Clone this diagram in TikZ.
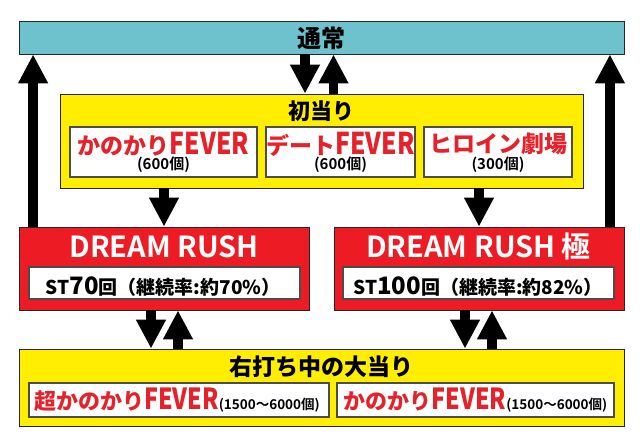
\documentclass[tikz,border=0pt]{standalone}
\usepackage{fontspec}
\usepackage{graphicx}
\setmainfont{Noto Sans CJK JP Bold}
\newfontfamily\heavyfont{Noto Sans CJK JP Black}
\usetikzlibrary{arrows.meta}

\definecolor{normalcyan}{RGB}{110,194,206}
\definecolor{hityellow}{RGB}{255,238,0}
\definecolor{rushred}{RGB}{237,28,36}
\definecolor{namered}{RGB}{230,33,41}

\newcommand{\narrow}[1]{\scalebox{0.82}[1]{#1}}
\newcommand{\namefont}{\heavyfont\fontsize{23}{23}\selectfont\color{namered}}
\newcommand{\smallname}{\heavyfont\fontsize{22}{22}\selectfont\color{namered}}
\newcommand{\countfont}{\fontsize{15}{15}\selectfont\color{black}}
\newcommand{\rangefont}{\fontsize{13.5}{13.5}\selectfont\color{black}}

\begin{document}
\begin{tikzpicture}[x=1pt,y=-1pt,
    panel/.style={draw=black!85, line width=0.8pt, inner sep=0pt},
    whitebox/.style={draw=black!70, line width=1.2pt, fill=white, inner sep=0pt},
    heading/.style={font=\heavyfont\fontsize{#1}{#1}\selectfont, inner sep=0pt},
    label/.style={inner sep=0pt},
    flow/.style={-{Triangle[width=28pt,length=29pt]}, line width=9.5pt}]
    \useasboundingbox (0,0) rectangle (640,446);

    % Normal state
    \node[panel, fill=normalcyan, minimum width=605pt, minimum height=33pt] (normal) at (321.5,37.5) {};
    \node[heading=24] (normaltxt) at (321.5,38) {通常};

    % First hit
    \node[panel, fill=hityellow, minimum width=523pt, minimum height=94pt] (first) at (321.5,141) {};
    \node[heading=22] (firsttxt) at (321.5,111) {初当り};
    \node[whitebox, minimum width=187pt, minimum height=50pt] (kano) at (163.5,152) {};
    \node[whitebox, minimum width=149pt, minimum height=50pt] (date) at (340.5,152) {};
    \node[whitebox, minimum width=148pt, minimum height=50pt] (heroine) at (498,152) {};
    \node[label, font=\namefont] (kanoname) at (163.5,144) {かのかり\narrow{\fontsize{30}{30}\selectfont FEVER}};
    \node[label, font=\namefont] (datename) at (340.5,144) {デート\narrow{\fontsize{30}{30}\selectfont FEVER}};
    \node[label, font=\namefont] (heroinename) at (498,144) {ヒロイン劇場};
    \node[label, font=\countfont] (kanocount) at (163.5,165) {(600個)};
    \node[label, font=\countfont] (datecount) at (340.5,165) {(600個)};
    \node[label, font=\countfont] (heroinecount) at (498,165) {(300個)};

    % DREAM RUSH
    \node[panel, fill=rushred, minimum width=290pt, minimum height=83pt] (rush) at (164,268.5) {};
    \node[panel, fill=rushred, minimum width=290pt, minimum height=83pt] (rushx) at (479,268.5) {};
    \node[label, anchor=base, text=white, font=\fontsize{29}{29}\selectfont] (rushtxt) at (164,258) {DREAM RUSH};
    \node[label, anchor=base, text=white, font=\fontsize{29}{29}\selectfont] (rushxtxt) at (478.5,258) {DREAM RUSH 極};
    \node[whitebox, minimum width=271pt, minimum height=32pt] (st70) at (164.5,283) {};
    \node[whitebox, minimum width=271pt, minimum height=32pt] (st100) at (478.5,283) {};
    \node[label, anchor=base, font=\heavyfont] (st70txt) at (163,295)
        {{\fontsize{19}{19}\selectfont ST}{\fontsize{24}{24}\selectfont 70}{\fontsize{19}{19}\selectfont 回（継続率:約70\%）}};
    \node[label, anchor=base, font=\heavyfont] (st100txt) at (478,295)
        {{\fontsize{19}{19}\selectfont ST}{\fontsize{24}{24}\selectfont 100}{\fontsize{19}{19}\selectfont 回（継続率:約82\%）}};

    % Right-side hit
    \node[panel, fill=hityellow, minimum width=605pt, minimum height=77pt] (right) at (321.5,387.5) {};
    \node[heading=23] (righttxt) at (321.5,366.5) {右打ち中の大当り};
    \node[whitebox, minimum width=300pt, minimum height=34pt] (superk) at (179,400) {};
    \node[whitebox, minimum width=277pt, minimum height=34pt] (kanoright) at (475.5,400) {};
    \node[label] (superktxt) at (177,400)
        {{\smallname 超かのかり\scalebox{0.8}[1]{\fontsize{29}{29}\selectfont FEVER}}{\rangefont(1500～6000個)}};
    \node[label] (kanorighttxt) at (475.5,400)
        {{\smallname かのかり\scalebox{0.8}[1]{\fontsize{29}{29}\selectfont FEVER}}{\rangefont(1500～6000個)}};

    % Arrows
    \draw[flow] ([xshift=14.5pt]rush.north west) -- ([xshift=14.5pt]normal.south west);
    \draw[flow] ([xshift=-14.5pt]rushx.north east) -- ([xshift=-14.5pt]normal.south east);
    \draw[flow] ([xshift=-16.5pt]normal.south) -- ([xshift=-16.5pt]first.north);
    \draw[flow] ([xshift=12pt]first.north) -- ([xshift=12pt]normal.south);
    \draw[flow] (first.south -| rush.north) -- (rush.north);
    \draw[flow] (first.south -| rushx.north) -- (rushx.north);
    \draw[flow] ([xshift=-13pt]rush.south) -- ([xshift=-13pt]rush.south |- right.north);
    \draw[flow] ([xshift=14pt]rush.south |- right.north) -- ([xshift=14pt]rush.south);
    \draw[flow] ([xshift=-14pt]rushx.south) -- ([xshift=-14pt]rushx.south |- right.north);
    \draw[flow] ([xshift=13pt]rushx.south |- right.north) -- ([xshift=13pt]rushx.south);
\end{tikzpicture}
\end{document}
